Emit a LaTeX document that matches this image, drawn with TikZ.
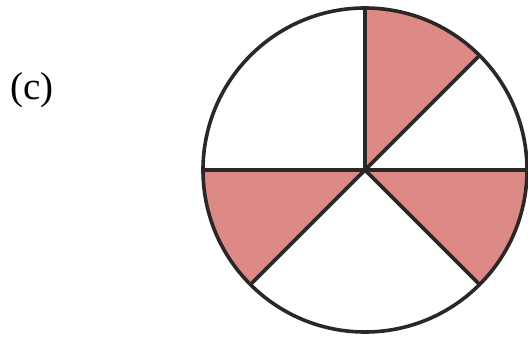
\documentclass[tikz,border=0pt]{standalone}
\usepackage{fontspec}
\setmainfont{Liberation Serif}
\usetikzlibrary{calc}
\definecolor{sectorfill}{HTML}{DD8A87}
\definecolor{edgecol}{HTML}{2B2726}
\begin{document}
\begin{tikzpicture}[x=1pt,y=1pt,
  outline/.style={draw=edgecol,line width=3.6pt,line join=round},
  sector/.style={fill=sectorfill}]
\useasboundingbox (0,0) rectangle (528,340);
\coordinate (O) at (365,170);
\foreach \a/\n in {90/a,45/b,0/c,-45/d,-135/e,180/f}
  \coordinate (\n) at ($(O)+(\a:162)$);
\fill[sector] (O) -- (b) arc[start angle=45,end angle=90,radius=162] -- cycle;
\fill[sector] (O) -- (d) arc[start angle=-45,end angle=0,radius=162] -- cycle;
\fill[sector] (O) -- (f) arc[start angle=180,end angle=225,radius=162] -- cycle;
\draw[outline] (O) circle[radius=162];
\draw[outline] (O) -- (a);
\draw[outline] (O) -- (b);
\draw[outline] (O) -- (c);
\draw[outline] (O) -- (d);
\draw[outline] (O) -- (e);
\draw[outline] (O) -- (f);
\node[anchor=base west,inner sep=0pt] (lbl) at (10,240) {\fontsize{39}{46}\selectfont (c)};
\end{tikzpicture}
\end{document}
